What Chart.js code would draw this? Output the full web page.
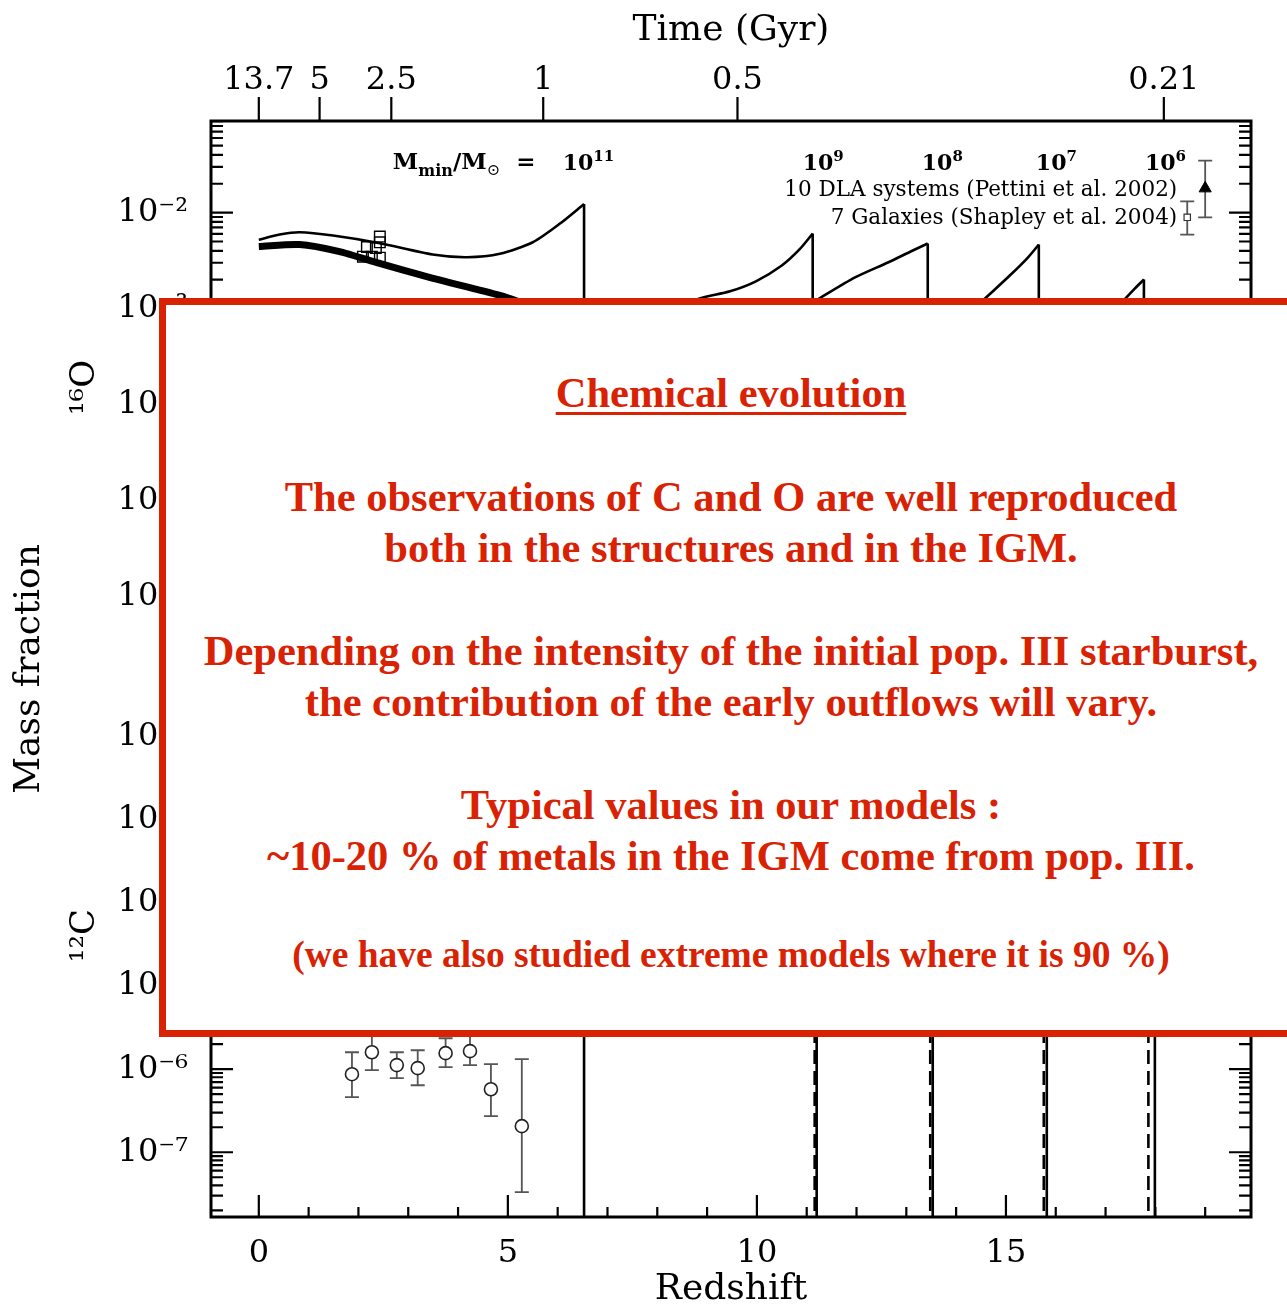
<!DOCTYPE html>
<html>
<head>
<meta charset="utf-8">
<title>Chemical evolution</title>
<script src="https://cdn.jsdelivr.net/npm/chart.js@4.4.1/dist/chart.umd.min.js"></script>
<style>
  html, body { margin: 0; padding: 0; background: #fff; }
  #wrap { position: relative; width: 1287px; height: 1308px; overflow: hidden; }
  #c { position: absolute; left: 0; top: 0; }
  #note {
    position: absolute; left: 159px; top: 298px; width: 1144px; height: 739px;
    box-sizing: border-box; border: 7px solid #d92204; background: #fff;
    color: #d92204; font-family: "Liberation Serif", "Times New Roman", serif;
    font-weight: bold; text-align: center;
  }
  #note div { position: absolute; left: 0; width: 100%; white-space: nowrap; line-height: 50px; font-size: 42.5px; }
  #note .title { text-decoration: underline; text-decoration-thickness: 3px; text-underline-offset: 5px; }
  #note .small { font-size: 37.5px; }
</style>
</head>
<body>
<div id="wrap">
  <canvas id="c" width="1287" height="1308"></canvas>
  <div id="note">
    <div class="title" style="top:63px">Chemical evolution</div>
    <div style="top:167px">The observations of C and O are well reproduced</div>
    <div style="top:218px">both in the structures and in the IGM.</div>
    <div style="top:321px">Depending on the intensity of the initial pop. III starburst,</div>
    <div style="top:372px">the contribution of the early outflows will vary.</div>
    <div style="top:475px">Typical values in our models :</div>
    <div style="top:526px">~10-20 % of metals in the IGM come from pop. III.</div>
    <div class="small" style="top:625px">(we have also studied extreme models where it is 90 %)</div>
  </div>
</div>
<script>
// --- AXES ---
const zMin = -0.96, zMax = 19.92;
const redshiftTicks = [0, 5, 10, 15];
const timeLabels = ['13.7', '5', '2.5', '1', '0.5', '0.21'];
const timeTickZ = [0, 1.22, 2.66, 5.71, 9.61, 18.17];

const oMin = 2.5e-7, oMax = 0.0902;      // 16O panel
const cMin = 1.66e-8, cMax = 0.1;        // 12C panel
const oTickExp = [-2, -3, -4, -5, -6];
const cTickExp = [-2, -3, -4, -5, -6, -7];

// --- 16O MODELS ---
// M_min = 1e11 (thin line)
const o11Z = [0, 0.42, 0.82, 1.49, 2.43, 3.49, 4.18, 4.84, 5.5, 6.04, 6.53];
const o11Y = [5.2e-3, 5.9e-3, 6.24e-3, 5.77e-3, 4.8e-3, 3.66e-3, 3.43e-3, 3.72e-3, 4.91e-3, 7.64e-3, 1.23e-2];
// thick band
const oThickZ = [0, 0.82, 1.6, 2.43, 3.5, 4.84, 5.6];
const oThickY = [4.44e-3, 4.65e-3, 3.94e-3, 2.95e-3, 2.06e-3, 1.37e-3, 1.0e-3];
// M_min = 1e9, 1e8, 1e7, 1e6
const o9Z = [8.6, 8.94, 9.46, 9.98, 10.5, 10.86, 11.12];
const o9Y = [1.15e-3, 1.31e-3, 1.51e-3, 1.92e-3, 2.81e-3, 4.16e-3, 6.05e-3];
const o8Z = [11.17, 11.97, 12.63, 13.13, 13.43];
const o8Y = [1.2e-3, 2.11e-3, 3.02e-3, 4.03e-3, 4.76e-3];
const o7Z = [14.45, 15.12, 15.44, 15.66];
const o7Y = [1.1e-3, 2.32e-3, 3.4e-3, 4.65e-3];
const o6Z = [17.3, 17.59, 17.77];
const o6Y = [1.12e-3, 1.62e-3, 2.01e-3];

// Shapley et al. 2004 galaxies
const galZ = [2.43, 2.43, 2.17, 2.35, 2.09, 2.27, 2.43];
const galO = [5.62e-3, 4.9e-3, 4.37e-3, 4.27e-3, 3.47e-3, 3.47e-3, 3.39e-3];

// key symbols (typical error bars)
const dlaKeyZ = [19.0], dlaKeyO = [1.79e-2], dlaKeyLo = [8.93e-3], dlaKeyHi = [3.48e-2];
const galKeyZ = [18.64], galKeyO = [8.93e-3], galKeyLo = [5.9e-3], galKeyHi = [1.31e-2];

// --- 12C ---
const cDropZ = [6.53, 11.2, 13.53, 15.82, 17.99];
const cDashZ = [11.16, 13.48, 15.76, 17.86];
const cDropTop = 1e-4;
const igmZ  = [1.87, 2.27, 2.77, 3.19, 3.75, 4.24, 4.66, 5.28];
const igmC  = [8.71e-7, 1.6e-6, 1.12e-6, 1.03e-6, 1.56e-6, 1.65e-6, 5.74e-7, 2.06e-7];
const igmLo = [4.6e-7, 9.77e-7, 7.8e-7, 6.41e-7, 1.06e-6, 1.12e-6, 2.72e-7, 3.3e-8];
const igmHi = [1.6e-6, 3.02e-6, 1.6e-6, 1.69e-6, 2.36e-6, 2.82e-6, 1.15e-6, 1.32e-6];

// annotation texts
const massExp = ['11', '9', '8', '7', '6'];
const massExpZ = [6.1, 10.92, 13.31, 15.6, 17.79];
const massEqZ = 2.69, massLevel = 0.0286;
const keyTexts = ['10 DLA systems (Pettini et al. 2002)', '7 Galaxies (Shapley et al. 2004)'];

const SERIF = '"DejaVu Serif", serif';
const INK = '#000';
const SUP = {'-': '⁻', '0': '⁰', '1': '¹', '2': '²', '3': '³', '4': '⁴', '5': '⁵', '6': '⁶', '7': '⁷', '8': '⁸', '9': '⁹'};
const decade = e => '10' + String(e).split('').map(c => SUP[c]).join('');

function pts(xs, ys) { return xs.map((x, i) => ({ x, y: ys[i] })); }
function drops(xs, tops, bottom) {
  const out = [];
  xs.forEach((x, i) => out.push({ x, y: tops[i] }, { x, y: bottom }, { x, y: null }));
  return out;
}
function curve(data, yAxisID, width) {
  return { data, xAxisID: 'x', yAxisID, showLine: true, borderColor: INK, borderWidth: width,
           pointRadius: 0, fill: false, tension: 0.25 };
}
function vlines(data, yAxisID, dash) {
  return { data, xAxisID: 'x', yAxisID, showLine: true, borderColor: INK, borderWidth: 2.6,
           borderDash: dash, pointRadius: 0, fill: false, tension: 0 };
}

const oModels = [[o11Z, o11Y], [o9Z, o9Y], [o8Z, o8Y], [o7Z, o7Y], [o6Z, o6Y]];
const oPeakZ = oModels.map(m => m[0][m[0].length - 1]);
const oPeakY = oModels.map(m => m[1][m[1].length - 1]);

const datasets = [
  ...oModels.map(m => curve(pts(m[0], m[1]), 'yO', 2.6)),
  curve(pts(oThickZ, oThickY), 'yO', 7),
  vlines(drops(oPeakZ, oPeakY, oMin), 'yO', []),
  vlines(drops(cDropZ, cDropZ.map(() => cDropTop), cMin), 'yC', []),
  vlines(drops(cDashZ, cDashZ.map(() => cDropTop), cMin), 'yC', [14, 7]),
  { data: pts(galZ, galO), xAxisID: 'x', yAxisID: 'yO', pointStyle: 'rect', pointRadius: 7.5,
    borderColor: INK, borderWidth: 1.4, backgroundColor: 'rgba(0,0,0,0)' },
  { data: pts(igmZ, igmC), xAxisID: 'x', yAxisID: 'yC', pointStyle: 'circle', pointRadius: 6.5,
    borderColor: '#222', borderWidth: 1.6, backgroundColor: '#fff', errLo: igmLo, errHi: igmHi, cap: 7 },
  { data: pts(dlaKeyZ, dlaKeyO), xAxisID: 'x', yAxisID: 'yO', pointStyle: 'triangle', pointRadius: 7,
    borderColor: INK, borderWidth: 1, backgroundColor: INK, errLo: dlaKeyLo, errHi: dlaKeyHi, cap: 7 },
  { data: pts(galKeyZ, galKeyO), xAxisID: 'x', yAxisID: 'yO', pointStyle: 'rect', pointRadius: 4.5,
    borderColor: '#333', borderWidth: 1.2, backgroundColor: '#fff', errLo: galKeyLo, errHi: galKeyHi, cap: 7 }
];

// --- PLUGINS ---
const errorBars = {
  id: 'errorBars',
  beforeDatasetsDraw(chart) {
    const ctx = chart.ctx;
    chart.data.datasets.forEach((ds, i) => {
      if (!ds.errLo) return;
      const ys = chart.scales[ds.yAxisID];
      ctx.save();
      ctx.strokeStyle = '#555';
      ctx.lineWidth = 1.8;
      chart.getDatasetMeta(i).data.forEach((p, j) => {
        const lo = ys.getPixelForValue(ds.errLo[j]), hi = ys.getPixelForValue(ds.errHi[j]);
        ctx.beginPath();
        ctx.moveTo(p.x, lo); ctx.lineTo(p.x, hi);
        ctx.moveTo(p.x - ds.cap, lo); ctx.lineTo(p.x + ds.cap, lo);
        ctx.moveTo(p.x - ds.cap, hi); ctx.lineTo(p.x + ds.cap, hi);
        ctx.stroke();
      });
      ctx.restore();
    });
  }
};

const frame = {
  id: 'frame',
  afterDatasetsDraw(chart) {
    const { ctx, chartArea: a, scales: { x, xTime, yO, yC } } = chart;
    const seg = (x1, y1, x2, y2) => { ctx.moveTo(x1, y1); ctx.lineTo(x2, y2); };
    ctx.save();
    ctx.strokeStyle = INK;
    ctx.lineWidth = 3;
    ctx.strokeRect(a.left, a.top, a.right - a.left, a.bottom - a.top);
    ctx.beginPath();
    seg(a.left, yO.bottom, a.right, yO.bottom);
    ctx.stroke();
    ctx.lineWidth = 2.2;
    ctx.beginPath();
    for (let z = Math.ceil(x.min); z <= Math.floor(x.max); z++) {
      const px = x.getPixelForValue(z);
      seg(px, a.bottom, px, a.bottom - (redshiftTicks.includes(z) ? 22 : 10));
    }
    xTime.ticks.forEach(t => {
      const px = xTime.getPixelForValue(t.value);
      seg(px, a.top, px, a.top - 24);
    });
    [yO, yC].forEach(s => {
      for (let e = Math.floor(Math.log10(s.min)); e <= Math.ceil(Math.log10(s.max)); e++) {
        for (let k = 1; k <= 9; k++) {
          const v = k * Math.pow(10, e);
          if (v < s.min || v > s.max) continue;
          const py = s.getPixelForValue(v), len = k === 1 ? 22 : 12;
          seg(a.left, py, a.left + len, py);
          seg(a.right, py, a.right - len, py);
        }
      }
    });
    ctx.stroke();
    ctx.restore();
  }
};

const notes = {
  id: 'notes',
  afterDraw(chart) {
    const { ctx, chartArea: a, scales: { x, yO } } = chart;
    ctx.save();
    ctx.fillStyle = INK;
    ctx.textBaseline = 'alphabetic';
    const base = yO.getPixelForValue(massLevel);
    let px = x.getPixelForValue(massEqZ);
    [['M', 'bold 23px', 0], ['min', 'bold 16px', 7], ['/M', 'bold 23px', 0], ['⊙', '16px', 6], ['  =', 'bold 23px', 0]]
      .forEach(([t, f, dy]) => {
        ctx.font = f + ' ' + SERIF;
        ctx.fillText(t, px, base + dy);
        px += ctx.measureText(t).width;
      });
    massExp.forEach((e, i) => {
      let lx = x.getPixelForValue(massExpZ[i]);
      ctx.font = 'bold 22px ' + SERIF;
      ctx.fillText('10', lx, base + 1);
      lx += ctx.measureText('10').width;
      ctx.font = 'bold 15px ' + SERIF;
      ctx.fillText(e, lx, base - 8);
    });
    // key texts, right aligned next to the key symbols
    const right = x.getPixelForValue(galKeyZ[0]) - 10;
    ctx.font = '21.5px ' + SERIF;
    ctx.textAlign = 'right';
    ctx.textBaseline = 'middle';
    ctx.fillText(keyTexts[0], right, yO.getPixelForValue(dlaKeyO[0]) + 2);
    ctx.fillText(keyTexts[1], right, yO.getPixelForValue(galKeyO[0]) + 1);
    // global y label
    ctx.translate(30, (a.top + a.bottom) / 2);
    ctx.rotate(-Math.PI / 2);
    ctx.textAlign = 'center';
    ctx.font = '36px ' + SERIF;
    ctx.fillText('Mass fraction', 0, 0);
    ctx.restore();
  }
};

// --- CHART ---
const tickFont = { family: SERIF, size: 32 };
const titleFont = { family: SERIF, size: 36, lineHeight: 1 };

function logAxis(min, max, exps, weight, title) {
  return {
    type: 'logarithmic', position: 'left', stack: 'panels', stackWeight: weight,
    min, max, bounds: 'data',
    afterBuildTicks: s => { s.ticks = exps.map(e => ({ value: Math.pow(10, e) })); },
    afterFit: s => { s.width = 211; },
    grid: { display: false }, border: { display: false },
    ticks: { callback: (v, i) => decade(exps[i]), font: { family: SERIF, size: 32 }, color: INK, padding: 15 },
    title: { display: true, text: title, color: INK, font: { family: SERIF, size: 34, lineHeight: 1 }, padding: { top: 68, bottom: 0 } }
  };
}

new Chart(document.getElementById('c'), {
  type: 'scatter',
  data: { datasets },
  options: {
    responsive: false,
    animation: false,
    layout: { padding: { left: 0, right: 36, top: 0, bottom: 0 } },
    plugins: { legend: { display: false }, tooltip: { enabled: false } },
    scales: {
      x: {
        type: 'linear', position: 'bottom', min: zMin, max: zMax, bounds: 'data',
        afterBuildTicks: s => { s.ticks = redshiftTicks.map(v => ({ value: v })); },
        afterFit: s => { s.height = 91; },
        grid: { display: false }, border: { display: false },
        ticks: { font: tickFont, color: INK, padding: 9, maxRotation: 0 },
        title: { display: true, text: 'Redshift', color: INK, font: titleFont, padding: { top: 0, bottom: 0 } }
      },
      xTime: {
        type: 'linear', position: 'top', min: zMin, max: zMax, bounds: 'data',
        afterBuildTicks: s => { s.ticks = timeTickZ.map(v => ({ value: v })); },
        afterFit: s => { s.height = 121; },
        grid: { display: false }, border: { display: false },
        ticks: { callback: (v, i) => timeLabels[i], font: tickFont, color: INK, padding: 13, maxRotation: 0, autoSkip: false },
        title: { display: true, text: 'Time (Gyr)', color: INK, font: titleFont, padding: { top: 13, bottom: 0 } }
      },
      // the left stack is laid out in reverse order: the last axis listed ends up on top
      yC: logAxis(cMin, cMax, cTickExp, 563, '¹²C'),
      yO: logAxis(oMin, oMax, oTickExp, 533, '¹⁶O')
    }
  },
  plugins: [errorBars, frame, notes]
});
</script>
</body>
</html>
